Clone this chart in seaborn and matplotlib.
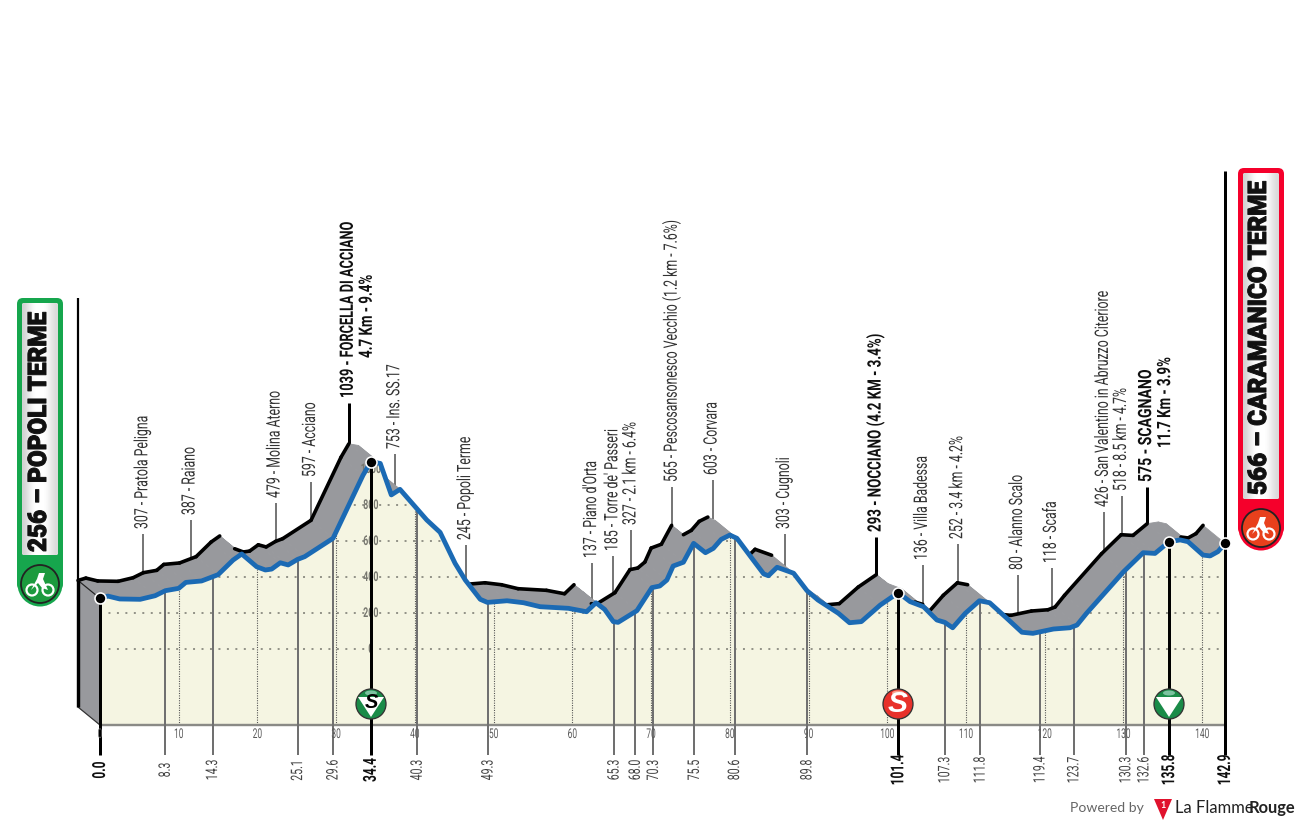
import numpy as np
import pandas as pd
import matplotlib
matplotlib.use("Agg")
import matplotlib.pyplot as plt
import seaborn as sns
from matplotlib.collections import LineCollection
from matplotlib.patches import Circle, FancyBboxPatch, Polygon, Ellipse
from matplotlib.patheffects import AbstractPathEffect
from matplotlib.transforms import Affine2D

# ---- data -------------------------------------------------------------
route_km = [0,1,2.5,5.1,7,8.3,10,10.9,12.9,15,16.9,18,19.9,21,21.8,22.9,23.9,25.1,26,29.6,33.4,34.4,35.6,37,38.1,40.2,41.5,
            43.2,45.1,46.4,48.3,49.2,51.7,53.8,55.9,59.5,61.8,63,64.1,65.2,65.8,68.2,70.1,71.1,72,72.8,74.1,75.4,76.9,77.9,
            78.9,80,80.9,82.8,84.3,84.9,86,88.1,89.8,91.2,93.8,95.2,96.7,99.1,101.4,102.9,104.6,106.3,107.3,108.3,109.9,
            111.7,113,115.2,117.1,118.5,121.1,123.2,124.1,125.3,130,132.5,134,135.8,137.2,138.2,140.1,141,142,142.9]
route_elev = [281,294,278,276,296,324,337,370,378,413,494,528,457,439,444,479,467,498,513,615,965,1040,1031,856,887,782,717,
              648,476,383,276,259,268,257,235,226,207,257,220,152,148,213,341,350,383,461,482,587,535,559,
              609,633,615,504,417,407,454,421,324,272,198,146,152,244,313,263,235,161,148,118,198,
              268,257,170,93,87,111,118,133,198,429,535,531,596,606,596,522,517,541,587]

way_km = [8.3,14.3,25.1,29.6,34.4,40.3,49.3,65.3,68.0,70.3,75.5,80.6,89.8,101.4,107.3,111.8,119.4,123.7,130.3,132.6,135.8]
way_labels = ["307 - Pratola Peligna","387 - Raiano","479 - Molina Aterno","597 - Acciano","1039 - FORCELLA DI ACCIANO",
              "753 - Ins. SS.17","245 - Popoli Terme","137 - Piano d'Orta","185 - Torre de' Passeri","327 - 2.1 km - 6.4%",
              "565 - Pescosansonesco Vecchio (1.2 km - 7.6%)","603 - Corvara","303 - Cugnoli","293 - NOCCIANO (4.2 KM - 3.4%)",
              "136 - Villa Badessa","252 - 3.4 km - 4.2%","80 - Alanno Scalo","118 - Scafa",
              "426 - San Valentino in Abruzzo Citeriore","518 - 8.5 km - 4.7%","575 - SCAGNANO"]
way_strong = [34.4,101.4,135.8]
way_second = {34.4:"4.7 Km - 9.4%",135.8:"11.7 Km - 3.9%"}
km_ticks = list(range(0,141,10))
elev_ticks = [0,200,400,600,800,1000]
start_title, finish_title = "256 – POPOLI TERME", "566 – CARAMANICO TERME"

# ---- layout (pixels) ---------------------------------------------------
W,H = 1300,825
PX_KM, PX_M = 7.873, 0.18
X0, Y0 = 100, 649
OFF_PX = (22,18)
BASE_PY = 725
leader_top_py = [534,520,503,482,403,454,545,563,556,530,487,480,534,537,565,544,575,568,512,496,487]
second_bottom_py = {34.4:358,135.8:448}
strong_squeeze = {34.4:0.69,101.4:0.72,135.8:0.76}
back_edge_hidden_from = [34.4,101.4,102.9,135.8,137.2]

sns.set_theme(style="white")
plt.rcParams['font.family'] = ['Roboto','DejaVu Sans']

class Squeeze(AbstractPathEffect):
    """Narrow a text along its baseline, as the reference's condensed face does."""
    def __init__(self,sx,center=False,stroke=0.0):
        super().__init__()
        self.sx, self.center, self.stroke = sx, center, stroke
    def draw_path(self,renderer,gc,tpath,affine,rgbFace=None):
        c = 0.0
        if self.center:
            e = tpath.get_extents(); c = (e.x0+e.x1)/2
        gc0 = renderer.new_gc(); gc0.copy_properties(gc)
        if self.stroke:
            gc0.set_linewidth(self.stroke); gc0.set_foreground(rgbFace)
        renderer.draw_path(gc0,tpath,Affine2D().translate(-c,0).scale(self.sx,1).translate(c,0)+affine,rgbFace)
        gc0.restore()

fig = plt.figure(figsize=(W/100,H/100),dpi=100,facecolor='white')
ax = fig.add_axes([0,0,1,1])
ax.set_axis_off()
xlim = (-X0/PX_KM,(W-X0)/PX_KM); ylim = ((Y0-H)/PX_M,Y0/PX_M)
ax.set_xlim(*xlim); ax.set_ylim(*ylim); ax.set_autoscale_on(False)
PT = Affine2D().scale(1,-1).translate(0,H)
px = lambda n: n*0.72

km = np.array(route_km,float); elev = np.array(route_elev,float)
dkm, dm = OFF_PX[0]/PX_KM, OFF_PX[1]/PX_M
base = (Y0-BASE_PY)/PX_M
bk, be = km-dkm, elev+dm
GREY='#98999d'; CREAM='#f5f5e2'

def vtext(x,y,s,size,sx,va='bottom',**kw):
    t = ax.text(x,y,s,transform=PT,rotation=90,ha='center',va=va,fontsize=px(size),**kw)
    t.set_path_effects([Squeeze(sx)])
    return t

# leaders
for k,lab,top in zip(way_km,way_labels,leader_top_py):
    strong = k in way_strong
    xp = X0+(k-dkm)*PX_KM
    yb = np.interp(k,km,elev)+dm
    ax.plot([k-dkm,k-dkm],[yb,(Y0-top)/PX_M],color='black' if strong else '#777777',lw=px(3 if strong else 2),zorder=1,solid_capstyle='butt')
    vtext(xp-1,top-5,lab,18.5,strong_squeeze.get(k,0.665),fontweight='bold' if strong else 'normal',color='#111111' if strong else '#333333')
    if k in way_second:
        vtext(xp+18,second_bottom_py[k],way_second[k],18.5,0.72,fontweight='bold',color='#111111')

# side faces
for i in range(len(km)-1):
    ax.add_patch(Polygon([(km[i],elev[i]),(km[i+1],elev[i+1]),(bk[i+1],be[i+1]),(bk[i],be[i])],fc=GREY,ec=GREY,lw=0.6,zorder=2))
ax.add_patch(Polygon([(0,elev[0]),(0,base),(-dkm,base+dm),(-dkm,be[0])],fc=GREY,ec=GREY,lw=0.6,zorder=2))
segs=[]
for i in range(len(km)-1):
    slope=(elev[i+1]-elev[i])*PX_M/((km[i+1]-km[i])*PX_KM)
    if slope>-0.4 and km[i] not in back_edge_hidden_from:
        segs.append([(bk[i],be[i]),(bk[i+1],be[i+1])])
ax.add_collection(LineCollection(segs,colors='black',linewidths=px(3.6),capstyle='round',zorder=3))
ax.plot([-dkm,0],[be[0],elev[0]],color='#222222',lw=px(1.2),zorder=3)
ax.plot([-dkm,0],[base+dm,base],color='#333333',lw=px(1.2),zorder=3)
ax.plot([-dkm,-dkm],[base+dm,be[0]],color='black',lw=px(3.4),zorder=3,solid_capstyle='butt')
ax.plot([-dkm,-dkm],[be[0],(Y0-298)/PX_M],color='black',lw=px(2.2),zorder=3,solid_capstyle='butt')

# front wall
wall = ax.fill_between(km,elev,base,color=CREAM,lw=0,zorder=4)
clip = Polygon(np.vstack([np.c_[km,elev],[[km[-1],base],[km[0],base]]]),transform=ax.transData)
for e in elev_ticks:
    l,=ax.plot([0,km[-1]],[e,e],color='#8a8a80',lw=px(1.8),dashes=(1.1,3.6),zorder=5); l.set_clip_path(clip)
    t=ax.text(34.4,e,f"{e}",ha='center',va='center',color='#77776f',fontsize=px(13.5),fontweight='bold',zorder=5)
    t.set_path_effects([Squeeze(0.66,True)])
for k in km_ticks[1:]:
    l,=ax.plot([k,k],[base,1200],color='#555555',lw=px(1.1),dashes=(1,1.2),zorder=5); l.set_clip_path(clip)
for k in km_ticks:
    t=ax.text(k,(Y0-734)/PX_M,f"{k}",ha='center',va='center',color='#5a5a5a',fontsize=px(13.5),zorder=6.5)
    t.set_path_effects([Squeeze(0.62,True)])
ax.plot([0,km[-1]],[base,base],color='#8a8a86',lw=px(2.4),zorder=6,solid_capstyle='butt')

# lower lines and km labels
low_py=755
all_marks=[0.0]+way_km+[142.9]
for k in all_marks:
    strong = k in way_strong or k in (0.0,142.9)
    ax.plot([k,k],[np.interp(k,km,elev),(Y0-low_py)/PX_M],color='black' if strong else '#707070',lw=px(3 if strong else 2),zorder=6,solid_capstyle='butt')
    t=ax.text(X0+k*PX_KM,770,f"{k:.1f}",transform=PT,rotation=90,ha='center',va='center',
            fontsize=px(18 if strong else 16),fontweight='bold' if strong else 'normal',color='#111111' if strong else '#444444',zorder=6)
    t.set_path_effects([Squeeze(0.66,True)])
ax.plot([142.9,142.9],[np.interp(142.9,km,elev),(Y0-171)/PX_M],color='black',lw=px(3),zorder=6,solid_capstyle='butt')

# elevation line
df = pd.DataFrame({'km':km,'elev':elev})
sns.lineplot(data=df,x='km',y='elev',color='#1b6ab4',lw=px(4.8),estimator=None,sort=False,legend=False,ax=ax,zorder=7,
             solid_joinstyle='round',solid_capstyle='round')

for k in [0.0,34.4,101.4,135.8,142.9]:
    ax.scatter([k],[np.interp(k,km,elev)],s=px(11)**2,color='black',edgecolor='white',linewidth=px(1.6),zorder=9)

# sprint / climb roundels
def roundel(x,y,col,hi,kind):
    ax.add_patch(Circle((x,y),15,transform=PT,fc=col,ec='#333333',lw=px(1.3),zorder=8))
    ax.add_patch(Ellipse((x,y-11),12,5,transform=PT,fc=hi,ec='none',zorder=8))
    if kind!='sprint':
        ax.add_patch(Polygon([(x-13,y-7),(x+13,y-7),(x,y+13)],transform=PT,fc='white',ec='none',zorder=8))
    if kind=='gpm':
        ax.text(x,y-1,"S",transform=PT,ha='center',va='center',color='black',fontsize=px(20),fontweight='bold',style='italic',family=['Liberation Sans','DejaVu Sans'],zorder=9)
    if kind=='sprint':
        ax.text(x,y,"S",transform=PT,ha='center',va='center',color='white',fontsize=px(30),fontweight='bold',style='italic',family=['Liberation Sans','DejaVu Sans'],zorder=9)
roundel(371,704,'#1a8b48','#7cc2a0','gpm')
roundel(898,704,'#e8312a','#f6a08c','sprint')
roundel(1169,704,'#1a8b48','#7cc2a0','plain')

# name pills
def pill(x0,y0,x1,y1,col,dark,title,tx,ty_bottom,size):
    ax.add_patch(FancyBboxPatch((x0+6,y0+6),x1-x0-12,y1-y0-28,boxstyle="round,pad=6,rounding_size=6",transform=PT,fc=col,ec='none',zorder=8))
    ax.add_patch(Circle(((x0+x1)/2,y1-22),22.5,transform=PT,fc=col,ec='none',zorder=8))
    inner=FancyBboxPatch((x0+7,y0+7),x1-x0-14,y1-y0-60,boxstyle="round,pad=2,rounding_size=2",transform=PT,fc='white',ec='none',zorder=8.1)
    ax.add_patch(inner)
    im=ax.imshow(np.array([[0.82,0.93,1,1,1,0.93,0.85]]),cmap='gray',vmin=0,vmax=1,extent=(x0+5,x1-5,y1-20,y0+5),transform=PT,
                 aspect='auto',interpolation='bicubic',zorder=8.2)
    im.set_clip_path(inner)
    cx=(x0+x1)/2; cy=y1-22
    ax.add_patch(Circle((cx,cy),19,transform=PT,fc=dark,ec='#222222',lw=px(1.8),zorder=8.3))
    for dx in (-8,8):
        ax.add_patch(Circle((cx+dx,cy+6),5.5,transform=PT,fc='none',ec='white',lw=px(2.2),zorder=8.4))
    ax.add_patch(Polygon([(cx-9,cy+6),(cx-3,cy-5),(cx-1,cy-11),(cx+5,cy-11),(cx+3,cy-5),(cx+8,cy+6),(cx+2,cy+4),(cx-2,cy-1)],transform=PT,fc='white',ec='none',zorder=8.4))
    t=ax.text(tx,ty_bottom,title,transform=PT,rotation=90,ha='center',va='bottom',color='#111111',fontsize=px(size),
            fontweight='black',family=['Roboto','Liberation Sans','DejaVu Sans'],zorder=9)
    t.set_path_effects([Squeeze(0.95,stroke=0.7)])
pill(17,298,63,606,'#16a64d','#1c9a3e',start_title,39,552,25.5)
pill(1238,168,1284,550,'#f5002b','#e8401c',finish_title,1259,495,25.5)

# credit
ax.text(1144,808,"Powered by",transform=PT,ha='right',va='center',color='#666666',fontsize=px(14),family=['Lato','DejaVu Sans'])
ax.add_patch(Polygon([(1154,799),(1172,799),(1163,820)],transform=PT,fc='#e0122d',ec='none'))
ax.text(1163,805,"1",transform=PT,ha='center',va='center',color='white',fontsize=px(9),fontweight='bold',family=['Lato','DejaVu Sans'])
ax.text(1175,808,"La Flamme",transform=PT,ha='left',va='center',color='#222222',fontsize=px(16.5),family=['Lato','DejaVu Sans'])
ax.text(1249,808,"Rouge",transform=PT,ha='left',va='center',color='#222222',fontsize=px(16.5),fontweight='bold',family=['Lato','DejaVu Sans'])

ax.set_xlim(*xlim); ax.set_ylim(*ylim); ax.set_axis_off()
fig.savefig('out.png',dpi=100)
